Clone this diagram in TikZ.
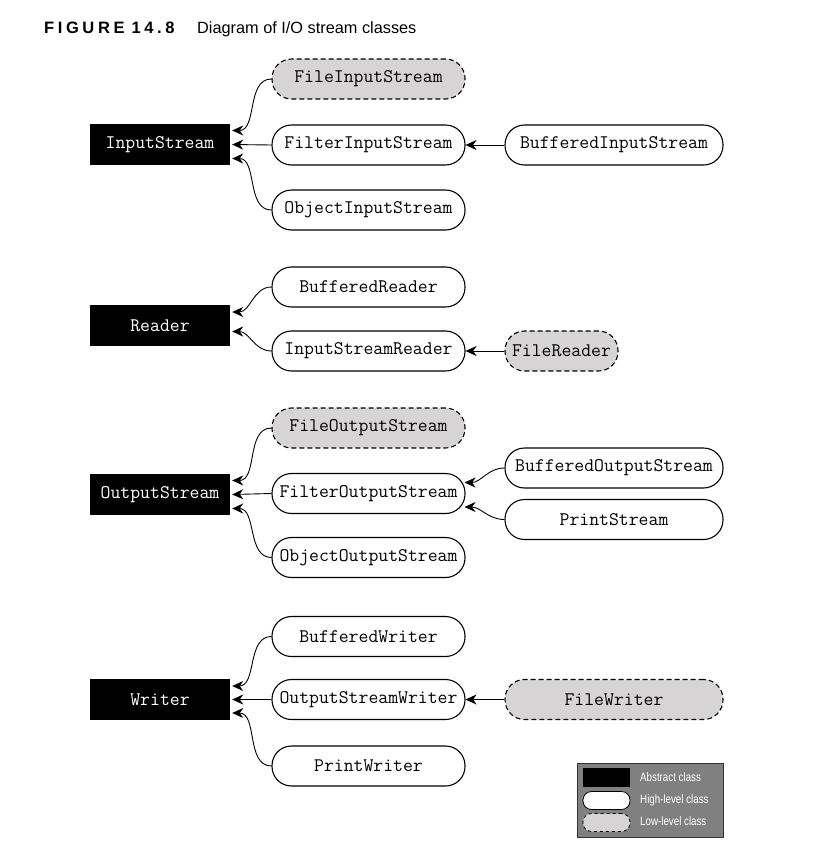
\documentclass[tikz,border=0pt]{standalone}
\usepackage{fontspec}
\setmainfont{Liberation Sans}
\usetikzlibrary{arrows.meta,calc}
\definecolor{lowgray}{HTML}{D6D4D4}
\definecolor{leggray}{HTML}{808080}
\tikzset{
  cls/.style={draw=black, line width=1.1pt, minimum width=193pt, minimum height=40pt, inner sep=0pt,
    rounded corners=19.5pt, font=\fontsize{19.2}{20}\selectfont\ttfamily},
  hi/.style={cls, fill=white},
  lo/.style={cls, fill=lowgray, dashed, dash pattern=on 5pt off 3pt},
  wide/.style={minimum width=218pt},
  abs/.style={fill=black, text=white, minimum width=140pt, minimum height=41pt, inner sep=0pt,
    font=\fontsize{19.2}{20}\selectfont\ttfamily},
  inh/.style={-{Stealth[length=11pt,width=10pt,inset=3.5pt]}, line width=0.9pt},
  legtxt/.style={text=white, anchor=west, inner sep=0pt, font=\fontsize{12.2}{13}\selectfont\addfontfeatures{FakeStretch=0.8}}
}
\begin{document}
\begin{tikzpicture}[x=1pt,y=-1pt]
\useasboundingbox (0,0) rectangle (816,857);
% title
\node[anchor=base west, inner sep=0pt, font=\fontsize{16.5}{18}\selectfont\bfseries] (fig) at (44,33)
  {F\kern3.6pt I\kern3.6pt G\kern3.6pt U\kern3.6pt R\kern3.6pt E\kern7pt 1\kern3.6pt 4\kern3.6pt .\kern3.6pt 8};
\node[anchor=base west, inner sep=0pt, font=\fontsize{16.3}{18}\selectfont] (ttl) at (197,33) {Diagram of I/O stream classes};

% InputStream group
\node[abs] (is) at (160,144.5) {InputStream};
\node[lo] (fis) at (368.5,79) {FileInputStream};
\node[hi] (filis) at (368.5,145) {FilterInputStream};
\node[hi] (ois) at (368.5,210) {ObjectInputStream};
\node[hi, wide] (bis) at (614,145) {BufferedInputStream};
\coordinate (isU) at ($(is.east)+(2,-14)$);
\coordinate (isM) at ($(is.east)+(2,0)$);
\coordinate (isD) at ($(is.east)+(2,14)$);
\draw[inh] (fis.west) to[out=180,in=0] (isU);
\draw[inh] (filis.west) -- (isM);
\draw[inh] (ois.west) to[out=180,in=0] (isD);
\draw[inh] (bis.west) -- (filis.east);

% Reader group
\node[abs] (rd) at (160,325.5) {Reader};
\node[hi] (brd) at (368.5,287) {BufferedReader};
\node[hi] (isr) at (368.5,351) {InputStreamReader};
\node[lo, minimum width=113pt] (frd) at (561.5,351) {FileReader};
\coordinate (rdU) at ($(rd.east)+(2,-13.5)$);
\coordinate (rdD) at ($(rd.east)+(2,6)$);
\draw[inh] (brd.west) to[out=180,in=0] (rdU);
\draw[inh] (isr.west) to[out=180,in=0] (rdD);
\draw[inh] (frd.west) -- (isr.east);

% OutputStream group
\node[abs] (os) at (160,494.5) {OutputStream};
\node[lo] (fos) at (368.5,428) {FileOutputStream};
\node[hi] (filos) at (368.5,493.5) {FilterOutputStream};
\node[hi] (oos) at (368.5,557.5) {ObjectOutputStream};
\node[hi, wide] (bos) at (614,468) {BufferedOutputStream};
\node[hi, wide] (ps) at (614,519.5) {PrintStream};
\coordinate (osU) at ($(os.east)+(2,-14)$);
\coordinate (osM) at ($(os.east)+(2,0)$);
\coordinate (osD) at ($(os.east)+(2,14)$);
\coordinate (fltU) at ($(filos.east)+(-1,-11)$);
\coordinate (fltD) at ($(filos.east)+(-1,13.5)$);
\draw[inh] (fos.west) to[out=180,in=0] (osU);
\draw[inh] (filos.west) -- (osM);
\draw[inh] (oos.west) to[out=180,in=0] (osD);
\draw[inh] (bos.west) to[out=180,in=0] (fltU);
\draw[inh] (ps.west) to[out=180,in=0] (fltD);

% Writer group
\node[abs] (wr) at (160,699.5) {Writer};
\node[hi] (bw) at (368.5,636.5) {BufferedWriter};
\node[hi] (osw) at (368.5,699.5) {OutputStreamWriter};
\node[hi] (pw) at (368.5,766) {PrintWriter};
\node[lo, wide] (fw) at (614,699.5) {FileWriter};
\coordinate (wrU) at ($(wr.east)+(2,-13.5)$);
\coordinate (wrM) at ($(wr.east)+(2,0)$);
\coordinate (wrD) at ($(wr.east)+(2,13.5)$);
\draw[inh] (bw.west) to[out=180,in=0] (wrU);
\draw[inh] (osw.west) -- (wrM);
\draw[inh] (pw.west) to[out=180,in=0] (wrD);
\draw[inh] (fw.west) -- (osw.east);

% legend
\node[draw=black!80, line width=0.8pt, fill=leggray, minimum width=146pt, minimum height=74pt, inner sep=0pt] (leg) at (650,800) {};
\node[fill=black, minimum width=47pt, minimum height=19pt, inner sep=0pt] (lgA) at (606.5,777.5) {};
\node[draw=black, fill=white, line width=0.8pt, minimum width=47pt, minimum height=18pt, inner sep=0pt, rounded corners=8.5pt] (lgH) at (606.5,800.5) {};
\node[draw=black, fill=lowgray, dashed, line width=0.8pt, minimum width=47pt, minimum height=18pt, inner sep=0pt, rounded corners=8.5pt] (lgL) at (606.5,822.5) {};
\node[legtxt] (tA) at (640,777.5) {Abstract class};
\node[legtxt] (tH) at (640,800.5) {High-level class};
\node[legtxt] (tL) at (640,821.5) {Low-level class};
\end{tikzpicture}
\end{document}
